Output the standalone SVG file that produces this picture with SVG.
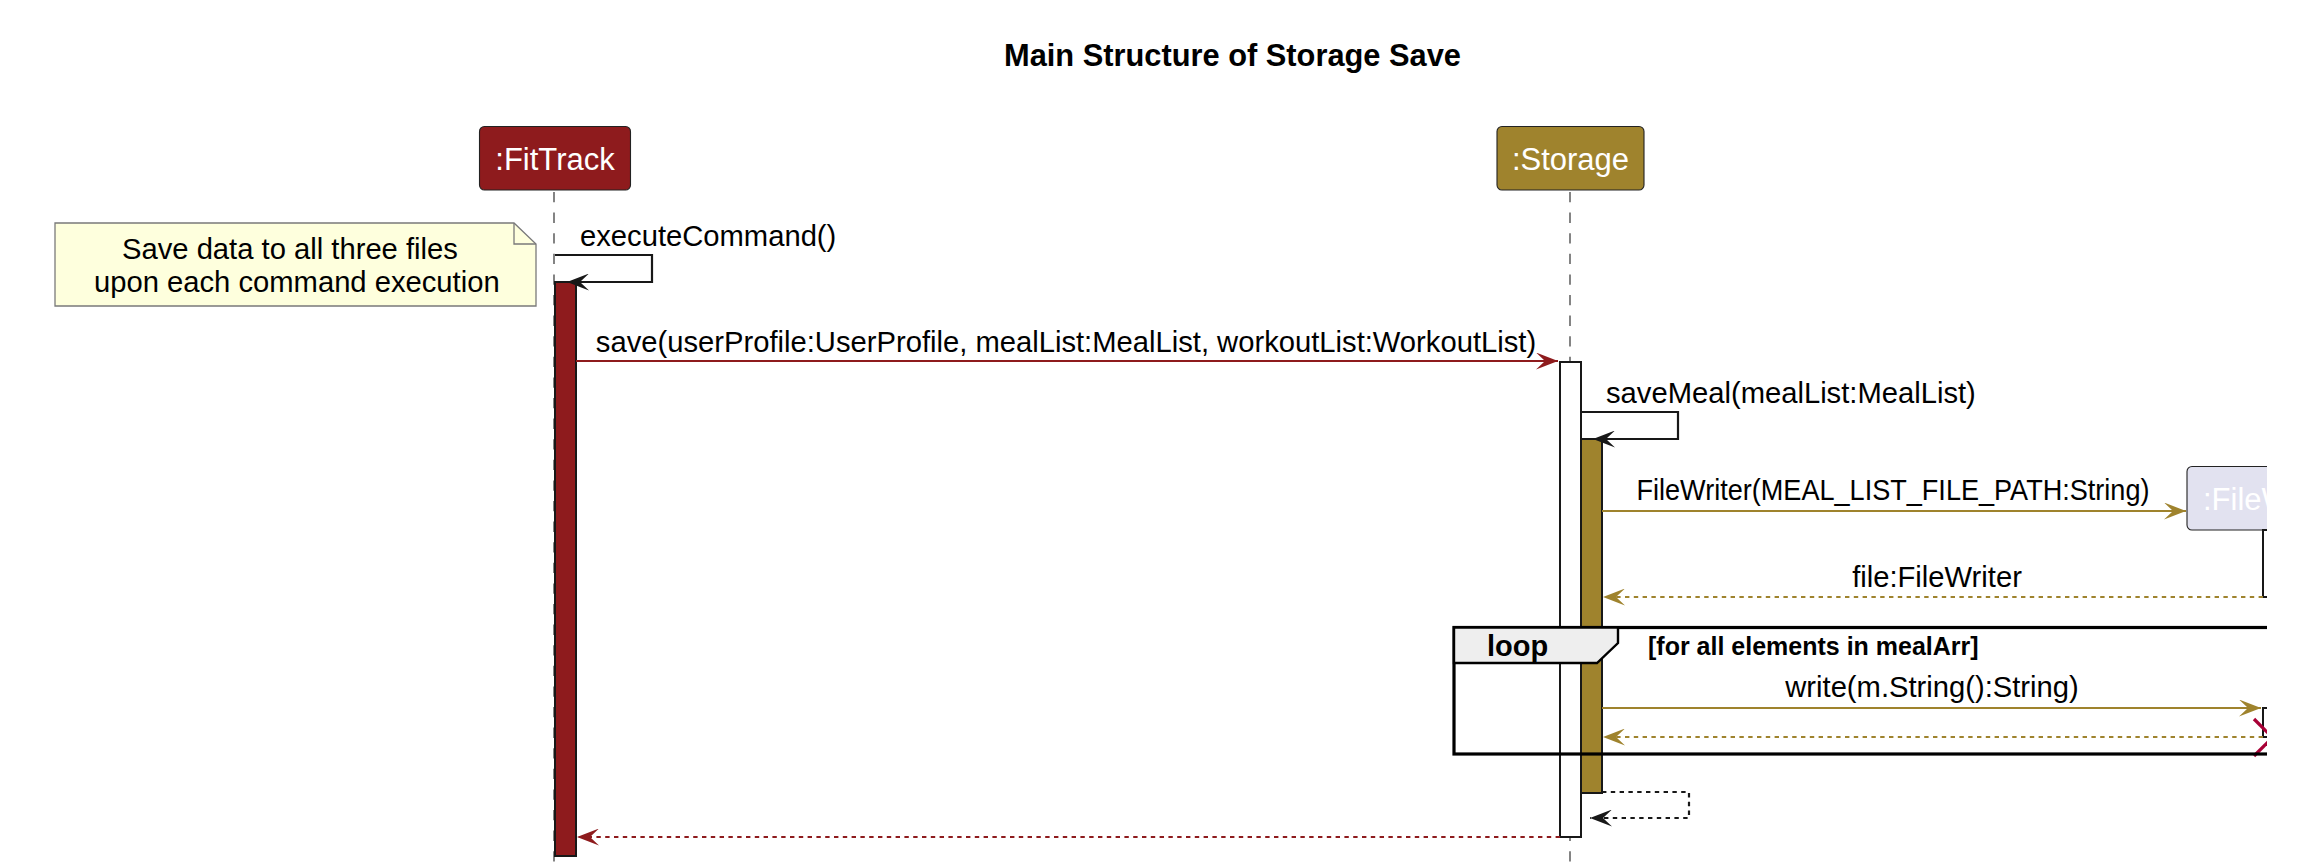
<svg xmlns="http://www.w3.org/2000/svg" width="2310" height="862" viewBox="0 0 2310 862">
<style>
text{font-family:'Liberation Sans',Arial,Helvetica,sans-serif;}
.title{font-size:30.8px;font-weight:bold;fill:#000;}
.ptext{font-size:31px;fill:#fff;}
.msg{font-size:29.2px;fill:#000;}
.life{stroke:#333;stroke-width:1.2;stroke-dasharray:10.3,10.3;fill:none;}
.pbox{stroke:#222;stroke-width:1.1;}
.act{stroke:#181818;stroke-width:2;}
.ln{fill:none;stroke-width:2.2;}
.dot{stroke-dasharray:4.4,4.4;}
.red{stroke:#8E1B1D;}
.gold{stroke:#9F832D;}
.blk{stroke:#181818;}
</style>
<defs>
<marker id="hRed" markerUnits="userSpaceOnUse" markerWidth="22" markerHeight="17" refX="22" refY="8.5" orient="auto" viewBox="0 0 22 17"><path d="M22,8.5 L0,0 L9,8.5 L0,17 Z" fill="#8E1B1D"/></marker>
<marker id="hGold" markerUnits="userSpaceOnUse" markerWidth="22" markerHeight="17" refX="22" refY="8.5" orient="auto" viewBox="0 0 22 17"><path d="M22,8.5 L0,0 L9,8.5 L0,17 Z" fill="#9F832D"/></marker>
<marker id="hBlk" markerUnits="userSpaceOnUse" markerWidth="22" markerHeight="17" refX="22" refY="8.5" orient="auto" viewBox="0 0 22 17"><path d="M22,8.5 L0,0 L9,8.5 L0,17 Z" fill="#181818"/></marker>
<clipPath id="crop"><rect x="0" y="0" width="2267" height="862"/></clipPath>
</defs>
<rect x="0" y="0" width="2310" height="862" fill="#fff"/>
<g clip-path="url(#crop)">
<text class="title" x="1232.5" y="66" text-anchor="middle">Main Structure of Storage Save</text>

<g id="lifelines">
<line class="life" x1="554" y1="192" x2="554" y2="862"/>
<line class="life" x1="1570" y1="192" x2="1570" y2="862"/>
</g>

<g id="fittrack">
<rect class="pbox" x="479.5" y="126.5" width="151" height="63.5" rx="5" fill="#8E1B1D"/>
<text class="ptext" x="555" y="170" text-anchor="middle">:FitTrack</text>
<rect class="act" x="555" y="282" width="21" height="574" fill="#8E1B1D"/>
</g>

<g id="storage">
<rect class="pbox" x="1497" y="126.5" width="147" height="63.5" rx="5" fill="#9F832D"/>
<text class="ptext" x="1570.5" y="170" text-anchor="middle">:Storage</text>
<rect class="act" x="1560" y="362" width="21" height="475" fill="#fff"/>
<rect class="act" x="1581" y="439" width="21" height="354" fill="#9F832D"/>
</g>

<g id="filewriter">
<rect class="pbox" x="2187" y="466.5" width="173" height="63.5" rx="5" fill="#E2E2F0"/>
<text class="ptext" x="2203" y="510">:FileWriter</text>
<rect class="act" x="2263" y="530" width="21" height="67" fill="#fff"/>
<rect class="act" x="2263" y="708" width="21" height="29" fill="#fff"/>
<line x1="2254" y1="719" x2="2291" y2="756" stroke="#A80036" stroke-width="3.3"/>
<line x1="2254" y1="756" x2="2291" y2="719" stroke="#A80036" stroke-width="3.3"/>
</g>

<g id="note">
<path d="M55,223 L514,223 L536,244 L536,306 L55,306 Z" fill="#FEFFDD" stroke="#7A7A7A" stroke-width="1.3"/>
<path d="M514,223 L514,244 L536,244" fill="none" stroke="#7A7A7A" stroke-width="1.3"/>
<text class="msg" x="122" y="259">Save data to all three files</text>
<text class="msg" x="94" y="292">upon each command execution</text>
</g>

<g id="loop">
<rect x="1454" y="627.5" width="900" height="126.5" fill="none" stroke="#000" stroke-width="3.2"/>
<path d="M1454,627.5 L1618,627.5 L1618,643 L1597,663 L1454,663 Z" fill="#EEEEEE" stroke="#000" stroke-width="2.4"/>
<text x="1487" y="656" font-size="29px" font-weight="bold" fill="#000">loop</text>
<text x="1648" y="655" font-size="25px" font-weight="bold" fill="#000">[for all elements in mealArr]</text>
</g>

<g id="connectors">
<path class="ln blk" d="M555,255 H652 V282 H567" marker-end="url(#hBlk)"/>
<text class="msg" x="580" y="246">executeCommand()</text>

<path class="ln red" d="M576,361 H1558" marker-end="url(#hRed)"/>
<text class="msg" x="1066" y="352" text-anchor="middle">save(userProfile:UserProfile, mealList:MealList, workoutList:WorkoutList)</text>

<path class="ln blk" d="M1581,412 H1678 V439 H1593" marker-end="url(#hBlk)"/>
<text class="msg" x="1606" y="402.5">saveMeal(mealList:MealList)</text>

<path class="ln gold" d="M1602,511 H2186" marker-end="url(#hGold)"/>
<text class="msg" x="1893" y="500" text-anchor="middle" textLength="513" lengthAdjust="spacingAndGlyphs">FileWriter(MEAL_LIST_FILE_PATH:String)</text>

<path class="ln gold dot" d="M2263,597 H1603" marker-end="url(#hGold)"/>
<text class="msg" x="1937" y="587" text-anchor="middle">file:FileWriter</text>

<path class="ln gold" d="M1602,708 H2261" marker-end="url(#hGold)"/>
<text class="msg" x="1932" y="697" text-anchor="middle">write(m.String():String)</text>

<path class="ln gold dot" d="M2263,737 H1603" marker-end="url(#hGold)"/>

<path class="ln blk dot" d="M1602,792 H1689 V818 H1590" marker-end="url(#hBlk)"/>

<path class="ln red dot" d="M1560,837 H577" marker-end="url(#hRed)"/>
</g>
</g>
</svg>
